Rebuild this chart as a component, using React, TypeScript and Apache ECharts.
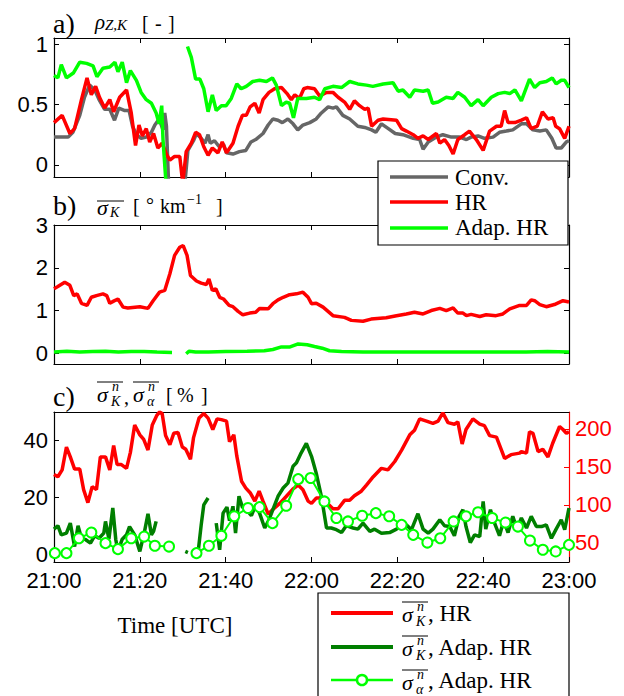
import React, { useEffect, useRef } from 'react';
import * as echarts from 'echarts';

// time axis: minutes after 21:00
const xTicks = [0, 20, 40, 60, 80, 100, 120];
const xTickLabels = ['21:00', '21:20', '21:40', '22:00', '22:20', '22:40', '23:00'];

// panel a: rho_{Z,K}
const rhoConv: [number, number | null][] = [
  [0, 0.23], [1.7, 0.23], [3.3, 0.23], [4.4, 0.27], [6, 0.41], [7.1, 0.56], [8.3, 0.66], [9.5, 0.62], [10.5, 0.54],
  [11.8, 0.46], [13, 0.46], [14.1, 0.37], [15.1, 0.47], [16.5, 0.45], [17.5, 0.45], [18.3, 0.32], [19.2, 0.25],
  [20.3, 0.22], [21.5, 0.23], [22.7, 0.27], [23.5, 0.33], [24.5, 0.38], [25.4, 0.29], [25.8, 0.43], [26.2, 0.32],
  [26.7, -0.15], [28, null], [30.5, -0.15], [31.2, 0.12], [32.5, 0.2], [33.2, 0.26], [34.3, 0.22], [35.2, 0.18],
  [35.9, 0.25], [36.4, 0.18], [37.4, 0.2], [38.5, 0.15], [39.5, 0.17], [40.2, 0.1], [41.7, 0.09], [43.2, 0.11],
  [44.7, 0.12], [45.9, 0.19], [47, 0.21], [48.7, 0.26], [49.9, 0.33], [51, 0.38], [52.2, 0.37], [53.2, 0.35],
  [54.5, 0.38], [55.7, 0.34], [56.8, 0.29], [58, 0.33], [59.6, 0.35], [61.1, 0.38], [62.3, 0.43], [63.9, 0.48],
  [65, 0.47], [65.8, 0.48], [67.3, 0.41], [68.9, 0.38], [70.8, 0.32], [72.4, 0.31], [74, 0.29], [75, 0.27],
  [76.3, 0.34], [77.9, 0.3], [79.5, 0.26], [81.3, 0.25], [83.7, 0.22], [85.2, 0.21], [86, 0.13], [87.2, 0.19],
  [89.1, 0.23], [90.6, 0.25], [92.6, 0.23], [94.5, 0.23], [96.1, 0.21], [97.2, 0.23], [98.8, 0.24], [100.3, 0.22],
  [102.3, 0.23], [103.8, 0.27], [105.4, 0.28], [106.9, 0.29], [108.9, 0.34], [110.1, 0.34], [111.6, 0.29],
  [113.2, 0.28], [114.7, 0.29], [116, 0.22], [117, 0.14], [118.2, 0.14], [119.4, 0.19], [120, 0.2],
];
const rhoHR: [number, number | null][] = [
  [0, 0.35], [1.9, 0.41], [3.7, 0.26], [4.8, 0.3], [6.4, 0.54], [7.7, 0.72], [8.7, 0.58], [9.7, 0.65], [10.6, 0.56],
  [11.8, 0.47], [13, 0.54], [13.9, 0.44], [15.3, 0.56], [16.9, 0.62], [18, 0.43], [19, 0.16], [19.8, 0.33],
  [20.6, 0.24], [21.5, 0.3], [22.3, 0.19], [23.2, 0.26], [24.2, 0.14], [25.2, 0.18], [26.2, 0.09], [27, 0.04],
  [28.1, 0.07], [29.3, 0.07], [30, -0.15], [30.8, 0.11], [32, 0.18], [33, 0.27], [33.9, 0.25], [34.9, 0.15],
  [35.9, 0.08], [36.9, 0.14], [38.2, 0.1], [39.2, 0.19], [40.2, 0.1], [41.7, 0.18], [42.9, 0.32], [43.9, 0.41],
  [44.8, 0.41], [45.7, 0.48], [46.8, 0.51], [47.8, 0.43], [48.7, 0.54], [50.1, 0.6], [51.4, 0.63], [53, 0.64],
  [54.3, 0.59], [55.3, 0.54], [56.1, 0.58], [57.2, 0.55], [58.2, 0.63], [59, 0.64], [60.7, 0.63], [61.9, 0.57],
  [63.5, 0.6], [65, 0.6], [66.2, 0.56], [67.7, 0.52], [68.9, 0.46], [70, 0.53], [71.2, 0.49], [72.4, 0.46],
  [73.2, 0.47], [74, 0.32], [75.5, 0.37], [76.7, 0.38], [79.8, 0.37], [81, 0.3], [82.1, 0.28], [83.7, 0.25],
  [84.8, 0.22], [86, 0.24], [87.2, 0.21], [89.1, 0.26], [89.9, 0.18], [91, 0.21], [92, 0.16], [93, 0.09],
  [94.1, 0.21], [95.7, 0.25], [96.8, 0.28], [98.4, 0.21], [100, 0.12], [101.5, 0.28], [103.1, 0.32],
  [104.2, 0.32], [105, 0.45], [105.8, 0.35], [107.4, 0.35], [108.9, 0.37], [110.1, 0.39], [111.2, 0.3],
  [112.6, 0.32], [113.8, 0.44], [115.1, 0.38], [116.3, 0.39], [116.9, 0.32], [117.8, 0.3], [119, 0.22], [120, 0.32],
];
const rhoAdap: [number, number | null][] = [
  [0, 0.74], [0.9, 0.72], [1.7, 0.83], [2.9, 0.72], [4.5, 0.76], [6, 0.85], [7.6, 0.84], [9.1, 0.82], [10, 0.73],
  [11.4, 0.8], [13, 0.81], [14.2, 0.85], [14.9, 0.77], [15.9, 0.85], [16.9, 0.68], [17.8, 0.78], [19.2, 0.7],
  [20.3, 0.6], [21.5, 0.54], [22.7, 0.51], [23.8, 0.43], [24.5, 0.34], [25.1, 0.49], [25.4, 0.21], [26.1, -0.15],
  [27, null], [31.1, 0.98], [32, 0.89], [33, 0.71], [34, 0.71], [34.9, 0.63], [35.9, 0.44], [36.9, 0.58],
  [37.8, 0.45], [39, 0.49], [40.1, 0.49], [41.3, 0.55], [42.6, 0.67], [43.6, 0.63], [44.8, 0.65], [46.3, 0.69],
  [47.9, 0.7], [49.5, 0.69], [50.9, 0.72], [51.8, 0.66], [53, 0.49], [54.1, 0.52], [54.9, 0.51], [55.8, 0.39],
  [56.8, 0.55], [58.8, 0.55], [60.7, 0.56], [61.9, 0.54], [63.1, 0.63], [65, 0.65], [67, 0.64], [68.9, 0.69],
  [70.8, 0.67], [72.8, 0.66], [74.3, 0.65], [76.7, 0.67], [79, 0.68], [80.2, 0.61], [81.3, 0.62], [82.9, 0.56],
  [84, 0.62], [86, 0.61], [87.2, 0.62], [88.2, 0.51], [89.5, 0.52], [91.4, 0.56], [93, 0.55], [94.1, 0.6],
  [95.7, 0.56], [97.2, 0.49], [98.8, 0.54], [100, 0.49], [101.9, 0.56], [103.5, 0.59], [105, 0.6], [106.2, 0.59],
  [107.4, 0.62], [108.9, 0.53], [110.8, 0.71], [112, 0.64], [113.2, 0.68], [114.7, 0.69], [116.1, 0.72],
  [117, 0.67], [118.2, 0.7], [119, 0.7], [120, 0.64],
];

// panel b: mean sigma_K [deg/km]
const sigHR: [number, number | null][] = [
  [0, 1.51], [0.9, 1.56], [2.5, 1.66], [3.7, 1.59], [4.6, 1.35], [5.4, 1.39], [6.4, 1.17], [7.7, 1.12], [8.7, 1.31],
  [9.9, 1.35], [11.4, 1.39], [12.3, 1.35], [13, 1.17], [13.9, 1.22], [14.9, 1.27], [16.1, 1.08], [17.2, 1.06],
  [20, 1.09], [21.9, 1.05], [23.1, 1.23], [24.6, 1.43], [25.8, 1.47], [27, 1.86], [28.1, 2.29], [29.3, 2.48],
  [30.1, 2.52], [31, 2.29], [31.8, 1.82], [33.2, 1.69], [34.3, 1.64], [35.5, 1.61], [36.1, 1.74], [36.9, 1.47],
  [37.7, 1.51], [38.6, 1.31], [39.5, 1.27], [40.8, 1.12], [41.7, 1.09], [42.9, 0.98], [44, 0.9], [45.6, 0.94],
  [47, 0.96], [47.9, 1.05], [49.9, 1.04], [51, 1.16], [52.2, 1.25], [53.4, 1.31], [54.9, 1.37], [56.5, 1.39],
  [58, 1.43], [59.2, 1.31], [60, 1.16], [61.1, 1.17], [62.7, 1.08], [65, 0.88], [67.7, 0.84], [69.3, 0.77],
  [72, 0.75], [73.9, 0.8], [77.4, 0.83], [79.8, 0.88], [82.1, 0.92], [84, 0.96], [86, 0.92], [87.9, 1.0],
  [89.9, 1.05], [91.4, 1.0], [93, 1.06], [94.1, 0.94], [95.3, 0.94], [96.1, 0.88], [97.2, 0.91], [99.2, 0.86],
  [100.7, 0.9], [103, 0.88], [104.6, 0.92], [106.2, 1.04], [108.5, 1.12], [110.1, 1.12], [111.2, 1.25],
  [112, 1.23], [113.2, 1.14], [114.7, 1.09], [116.6, 1.14], [118.6, 1.23], [120, 1.2],
];
const sigAdap: [number, number | null][] = [
  [0, 0.03], [3, 0.05], [6, 0.03], [9, 0.04], [12, 0.05], [15, 0.03], [18, 0.04], [21, 0.04], [24, 0.03],
  [27.5, 0.02], [28.5, null], [30.8, -0.01], [31.5, 0.05], [33, 0.03], [36, 0.03], [40, 0.04], [45, 0.05],
  [49, 0.06], [51, 0.09], [53, 0.15], [55, 0.15], [56.9, 0.22], [59, 0.2], [60.7, 0.16], [62.5, 0.12],
  [64.2, 0.06], [67, 0.04], [72, 0.03], [80, 0.03], [90, 0.03], [100, 0.03], [110, 0.03], [115, 0.04], [120, 0.03],
];

// panel c: normalised sigma [%]
const nSigHR: [number, number | null][] = [
  [0, 140], [0.9, 137], [1.9, 146], [2.9, 176], [3.8, 163], [4.8, 147], [6, 147], [6.9, 120], [7.9, 103],
  [8.9, 124], [9.9, 120], [10.8, 163], [12, 163], [13, 146], [13.9, 178], [14.7, 153], [15.7, 153], [16.9, 148],
  [17.8, 169], [18.8, 205], [20, 192], [20.9, 186], [21.9, 172], [22.9, 205], [24, 218], [24.6, 222], [25.2, 220],
  [26, 191], [27, 179], [27.9, 194], [28.9, 195], [29.9, 176], [30.7, 173], [31.8, 160], [32.5, 188], [33.8, 214],
  [34.9, 220], [35.9, 214], [37, 199], [38, 213], [39, 212], [40.2, 210], [40.9, 183], [41.9, 192], [42.6, 164],
  [43.7, 131], [44.7, 122], [45.7, 116], [46.8, 105], [47.8, 118], [48.7, 105], [49.9, 88], [51, 94],
  [52.6, 102], [54.1, 111], [55.7, 121], [56.9, 126], [58, 120], [59.2, 105], [60, 102], [61.1, 109],
  [62.3, 109], [63.5, 103], [65, 95], [66.2, 95], [67.7, 106], [68.9, 106], [70, 112], [71.6, 118], [72.8, 126],
  [74.4, 137], [76.3, 148], [77.8, 146], [79.4, 157], [81, 172], [82.9, 192], [84, 198], [85.2, 213],
  [86.8, 210], [88.3, 207], [89.5, 210], [90.6, 221], [91.8, 208], [93.3, 206], [94.1, 209], [95.1, 180],
  [96, 199], [97.6, 213], [99.2, 206], [100.3, 204], [101.5, 191], [103.1, 189], [105, 161], [106.5, 166],
  [108.5, 168], [108.9, 170], [110.1, 168], [110.8, 196], [111.6, 194], [112.8, 170], [113.9, 173], [115.1, 163],
  [116.2, 181], [117.8, 203], [118.6, 199], [119.4, 194], [120, 196],
];
const nSigAdap: [number, number | null][] = [
  [0, 9.0], [0.9, 10.2], [1.7, 7.0], [2.9, 7.6], [3.8, 11.1], [4.8, 2.9], [5.6, 10.2], [6.4, 5.8], [7.4, 5.3],
  [8.5, 4.1], [9.5, 6.7], [10.5, 5.8], [11.6, 7.6], [12, 11.7], [12.8, 5.5], [13.7, 16.4], [14.4, 5.3],
  [14.9, 1.2], [15.9, 5.5], [16.9, 7.0], [17.6, 9.9], [18.8, 7.0], [20, 1.2], [21.1, 8.2], [21.9, 14.4],
  [22.7, 7.0], [23.2, 8.2], [23.8, 11.7], [25, null], [30.6, 1.2], [31.2, 0.8], [32, null], [33.6, 1.2],
  [34.3, 10.5], [34.9, 17.5], [35.9, 19.9], [36.8, null], [37.8, 11.1], [38.6, 1.8], [39.4, 14.6], [40.3, 16.7],
  [40.9, 12], [41.7, 17], [42.3, 7.6], [43.1, 20.5], [43.9, 16.7], [44.8, 15.8], [46, 13.7], [47, 17.5],
  [47.9, 14.6], [49.1, 9.4], [50.1, 12.3], [51, 15.8], [52.2, 20.5], [53.4, 23.4], [54.5, 25.1], [55.7, 31],
  [56.5, 32.2], [57.6, 35.7], [58.8, 39], [60, 34.5], [61.1, 28.6], [62.3, 20.5], [63.5, 9.4], [64.6, 9.4],
  [65.8, 8.8], [67, 7.8], [68.1, 10.2], [69.7, 9.4], [70.8, 9.0], [72, 11.1], [73.6, 8.2], [74.7, 9.0],
  [76.3, 7.6], [78.2, 7.8], [79.8, 9.0], [81, 10.2], [82.1, 10.5], [83.3, 8.8], [84.8, 14.4], [86, 9.0],
  [87.2, 7.6], [88.3, 9.0], [89.9, 12.3], [91, 10.2], [92.2, 9.9], [93.3, 6.7], [94.4, 13.5], [95.3, 15.8],
  [96, 9.9], [97, 4.3], [98, 7.0], [99.2, 6.4], [100, 18.7], [100.6, 9.0], [101.7, 15.8], [102.7, 10.9],
  [103.8, 6.7], [104.8, 12], [105.8, 7.8], [106.9, 13.5], [107.9, 9.0], [108.9, 12.9], [110.1, 9.4],
  [111.2, 13.5], [112.4, 9.9], [113.6, 9.9], [114.7, 10.5], [115.9, 5.8], [117, 9.0], [118.2, 12.3], [119, 8.8],
  [120, 16.4],
];
const nAlphaAdap: [number, number | null][] = [
  [0.2, 0.6], [2.9, 0.6], [5.8, 5.8], [8.7, 7.8], [12, 4.1], [14.9, 2.0], [18, 5.8], [21, 6.4], [23.5, 3.2],
  [26.8, 2.9], [29, null], [33.2, 0.6], [36.1, 3.2], [39, 6.7], [42, 13.5], [45.2, 16.4], [47.9, 16.7],
  [50.9, 11.1], [54.1, 17.2], [56.9, 26.5], [59.8, 26.9], [63, 18.7], [65.8, 12.9], [68.5, 11.7], [71.8, 13.7],
  [75, 14.6], [78.1, 13.5], [81, 10.5], [83.7, 7.0], [87, 4.3], [90, 5.8], [93.1, 11.7], [96, 13.5], [98.8, 14.9],
  [102.1, 12.9], [105.2, 11.3], [108.1, 9.9], [110.9, 5.0], [113.9, 1.8], [116.9, 1.2], [120, 3.5],
];

const yTicksA = [0, 0.5, 1];
const yTicksB = [0, 1, 2, 3];
const yTicksC = [0, 20, 40];
const yTicksCRight = [50, 100, 150, 200];

const SANS = '"Liberation Sans", Arial, sans-serif';
const SERIF = '"Liberation Serif", "Times New Roman", serif';
const GREY = '#666666';
const RED = '#ff0000';
const LGREEN = '#00ff00';
const DGREEN = '#007f00';

function xAx(gridIndex: number, position: string, showLabels: boolean, showTicks: boolean) {
  return {
    type: 'value', gridIndex, position, min: 0, max: 120, interval: 20,
    axisLine: { show: true, onZero: false, lineStyle: { color: '#000', width: 1.2 } },
    axisTick: { show: showTicks, inside: true, length: 5, lineStyle: { color: '#000', width: 1 } },
    axisLabel: {
      show: showLabels, margin: 7, fontFamily: SANS, fontSize: 22, color: '#000',
      formatter: (v: number) => { const i = xTicks.indexOf(v); return i >= 0 ? xTickLabels[i] : ''; },
    },
    splitLine: { show: false },
  };
}
function yAx(gridIndex: number, position: string, min: number, max: number, ticks: number[], showLabels: boolean, color = '#000') {
  return {
    type: 'value', gridIndex, position, min, max,
    axisLine: { show: true, onZero: false, lineStyle: { color, width: 1.2 } },
    axisTick: { show: true, inside: true, length: 5, customValues: ticks, lineStyle: { color, width: 1 } },
    axisLabel: { show: showLabels, customValues: ticks, margin: 6, fontFamily: SANS, fontSize: 22, color },
    splitLine: { show: false },
  };
}
function line(xi: number, yi: number, data: any, color: string, width: number, z: number) {
  return {
    type: 'line', xAxisIndex: xi, yAxisIndex: yi, data, showSymbol: false, connectNulls: false, clip: true,
    lineStyle: { color, width }, itemStyle: { color }, z,
  };
}

const T = (x: number, y: number, text: string, size: number, italic = false, align = 'left') => ({
  type: 'text', x, y, z: 100,
  style: { text, fontFamily: SERIF, fontSize: size, fontStyle: italic ? 'italic' : 'normal', fill: '#000', align, verticalAlign: 'middle' },
});
const L = (x1: number, y1: number, x2: number, y2: number, color: string, w: number) => ({
  type: 'line', z: 100, shape: { x1, y1, x2, y2 }, style: { stroke: color, lineWidth: w },
});
// overlined sigma with superscript n and a subscript
const sigmaN = (x: number, y: number, sub: string, subItalic = true) => [
  T(x, y, 'σ', 22, true),
  T(x + 15, y - 8, 'n', 14, true),
  T(x + 14, y + 7, sub, 14, subItalic),
  L(x, y - 12, x + 26, y - 12, '#000', 1),
];

export default function App() {
  const ref = useRef<HTMLDivElement>(null);
  useEffect(() => {
    const chart = echarts.init(ref.current!, null, { renderer: 'svg' });
    const graphic: any[] = [
      // titles
      T(53, 23, 'a)', 28), T(95, 22, 'ρ', 21, true), T(105, 25, 'Z,K', 15, true),
      T(142, 23, '[', 20), T(155, 23, '-', 20), T(168, 23, ']', 20),
      T(53, 205, 'b)', 28), T(97, 207, 'σ', 22, true), T(110, 212, 'K', 14, true), L(97, 201, 124, 201, '#000', 1),
      T(133, 206, '[', 20), T(146, 205, '°', 20), T(160, 206, 'km', 20), T(187, 199, '−1', 14), T(216, 206, ']', 20),
      T(53, 396, 'c)', 28), ...sigmaN(97, 394, 'K'), T(124, 397, ',', 20), ...sigmaN(133, 394, 'α'),
      T(166, 395, '[', 20), T(177, 395, '%', 20), T(201, 395, ']', 20),
      T(175, 625, 'Time [UTC]', 23, false, 'center'),
      // legend a
      { type: 'rect', z: 99, shape: { x: 378, y: 161, width: 190, height: 84 }, style: { fill: '#fff', stroke: '#000', lineWidth: 1.2 } },
      L(390, 177, 448, 177, GREY, 3.5), T(455, 177, 'Conv.', 23),
      L(390, 202, 448, 202, RED, 3.5), T(455, 202, 'HR', 23),
      L(390, 228, 448, 228, LGREEN, 3.5), T(455, 227, 'Adap. HR', 23),
      // legend c
      { type: 'rect', z: 99, shape: { x: 318, y: 593, width: 251, height: 120 }, style: { fill: '#fff', stroke: '#000', lineWidth: 1.2 } },
      L(331, 613, 393, 613, RED, 4), ...sigmaN(402, 614, 'K'), T(428, 613, ', HR', 23),
      L(331, 647, 393, 647, DGREEN, 4), ...sigmaN(402, 648, 'K'), T(428, 647, ', Adap. HR', 23),
      L(331, 680, 393, 680, LGREEN, 2.5),
      { type: 'circle', z: 100, shape: { cx: 362, cy: 680, r: 5 }, style: { fill: '#fff', stroke: LGREEN, lineWidth: 2.5 } },
      ...sigmaN(402, 682, 'α'), T(428, 680, ', Adap. HR', 23),
    ];
    chart.setOption({
      animation: false,
      backgroundColor: '#fff',
      grid: [
        { left: 54, top: 38, width: 515, height: 139 },
        { left: 54, top: 225, width: 515, height: 139 },
        { left: 54, top: 412, width: 515, height: 150 },
      ],
      xAxis: [
        xAx(0, 'bottom', false, true), xAx(0, 'top', false, true),
        xAx(1, 'bottom', false, true), xAx(1, 'top', false, true),
        xAx(2, 'bottom', true, true), xAx(2, 'top', false, false),
      ],
      yAxis: [
        yAx(0, 'left', -0.1, 1.05, yTicksA, true), yAx(0, 'right', -0.1, 1.05, yTicksA, false),
        yAx(1, 'left', -0.25, 3, yTicksB, true), yAx(1, 'right', -0.25, 3, yTicksB, false),
        yAx(2, 'left', -2.5, 50, yTicksC, true), yAx(2, 'right', 25, 222, yTicksCRight, true, RED),
      ],
      series: [
        line(0, 0, rhoConv, GREY, 3.5, 2),
        line(0, 0, rhoHR, RED, 3.5, 3),
        line(0, 0, rhoAdap, LGREEN, 3.5, 4),
        line(2, 2, sigHR, RED, 3.5, 3),
        line(2, 2, sigAdap, LGREEN, 3.5, 4),
        line(4, 5, nSigHR, RED, 3.5, 3),
        line(4, 4, nSigAdap, DGREEN, 3.5, 4),
        {
          type: 'line', xAxisIndex: 4, yAxisIndex: 4, data: nAlphaAdap, showSymbol: true, symbol: 'emptyCircle',
          symbolSize: 10, connectNulls: false, clip: true, z: 5,
          lineStyle: { color: LGREEN, width: 2 }, itemStyle: { color: LGREEN, borderColor: LGREEN, borderWidth: 2.5 },
        },
      ],
      graphic,
    });
    return () => chart.dispose();
  }, []);
  return <div ref={ref} style={{ position: 'fixed', left: 0, top: 0, width: 624, height: 696, background: '#fff' }} />;
}
